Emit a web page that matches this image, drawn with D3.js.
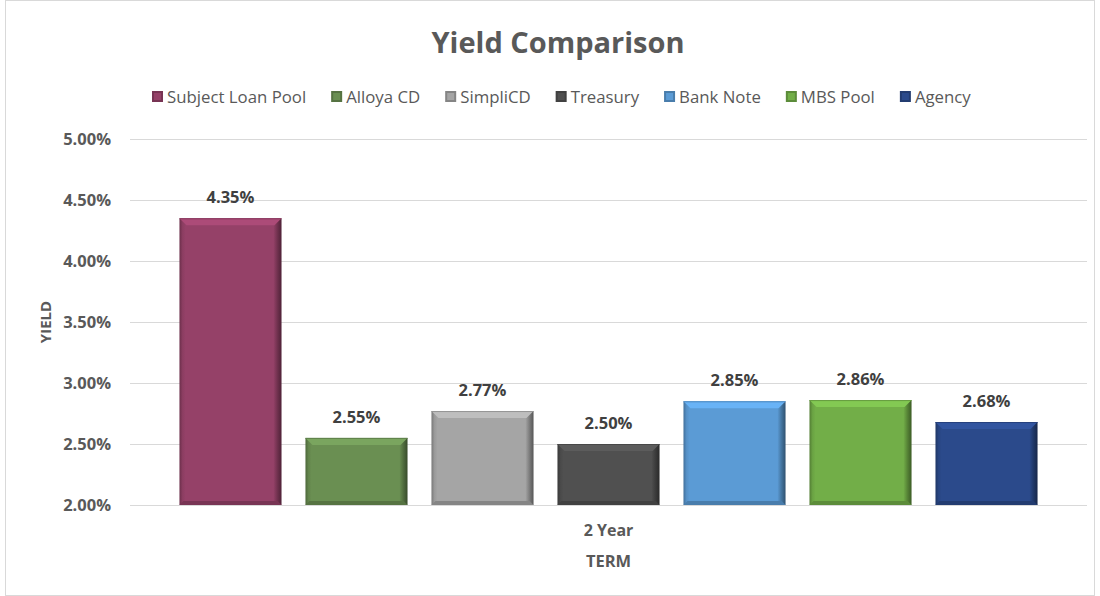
<!DOCTYPE html>
<html>
<head>
<meta charset="utf-8">
<script src="https://cdn.jsdelivr.net/npm/d3@7"></script>
<style>
  html, body { margin: 0; padding: 0; background: #fff; }
  svg text { font-family: "Open Sans", Lato, sans-serif; }
</style>
</head>
<body>
<svg id="chart" width="1100" height="596"></svg>
<script>
// Yield comparison for the 2-year term
const categories = ["2 Year"];
const seriesNames = ["Subject Loan Pool", "Alloya CD", "SimpliCD", "Treasury", "Bank Note", "MBS Pool", "Agency"];
const seriesValues = [4.35, 2.55, 2.77, 2.50, 2.85, 2.86, 2.68];
const seriesColors = ["#954168", "#6a8f52", "#a5a5a5", "#505050", "#5b9bd5", "#72ae48", "#2b4a8b"];
const yTicks = [2.0, 2.5, 3.0, 3.5, 4.0, 4.5, 5.0];

const svg = d3.select("#chart");
const W = 1100, H = 596;
const margin = { left: 130, right: 13, top: 139, bottom: 91 };
const FONT = "'Open Sans', Lato, sans-serif";

// chart frame
svg.append("rect").attr("x", 5.5).attr("y", 0.5).attr("width", W - 11).attr("height", H - 1)
  .attr("fill", "#fff").attr("stroke", "#d9d9d9");

const x0 = d3.scaleBand().domain(categories).range([margin.left, W - margin.right]).paddingInner(0).paddingOuter(0.0425);
const x1 = d3.scaleBand().domain(seriesNames).range([0, x0.bandwidth()]).paddingInner(0.19).paddingOuter(0.095);
const y = d3.scaleLinear().domain([2.0, 5.0]).range([H - margin.bottom, margin.top]);

// gridlines
svg.append("g").selectAll("line").data(yTicks).join("line")
  .attr("x1", margin.left).attr("x2", W - margin.right)
  .attr("y1", d => Math.round(y(d)) + 0.5).attr("y2", d => Math.round(y(d)) + 0.5)
  .attr("stroke", "#d9d9d9").attr("stroke-width", 1);

// y axis labels
const yAxis = d3.axisLeft(y).tickValues(yTicks).tickFormat(d => d3.format(".2f")(d) + "%").tickSize(0).tickPadding(19);
const gy = svg.append("g").attr("transform", `translate(${margin.left},0)`).call(yAxis);
gy.select(".domain").remove();
gy.selectAll("text").attr("fill", "#595959").attr("font-size", 16.5).attr("font-weight", "bold")
  .style("font-family", FONT);

// gradients per series for the bevelled bar look
const defs = svg.append("defs");
seriesNames.forEach((name, i) => {
  const c = d3.color(seriesColors[i]);
  const g = defs.append("linearGradient").attr("id", "side" + i).attr("x1", 0).attr("x2", 1).attr("y1", 0).attr("y2", 0);
  g.append("stop").attr("offset", "0%").attr("stop-color", c.darker(0.9));
  g.append("stop").attr("offset", "3%").attr("stop-color", c.darker(0.2));
  g.append("stop").attr("offset", "6%").attr("stop-color", c);
  g.append("stop").attr("offset", "92%").attr("stop-color", c);
  g.append("stop").attr("offset", "96%").attr("stop-color", c.darker(0.8));
  g.append("stop").attr("offset", "100%").attr("stop-color", c.darker(1.8));
});

const bars = svg.append("g").selectAll("g.bar")
  .data(seriesNames.map((n, i) => ({ name: n, value: seriesValues[i], i })))
  .join("g").attr("class", "bar");

const bx = d => x0(categories[0]) + x1(d.name);
const bw = x1.bandwidth();
const base = y(2.0);

bars.append("rect")
  .attr("x", bx).attr("y", d => y(d.value)).attr("width", bw).attr("height", d => base - y(d.value))
  .attr("fill", d => `url(#side${d.i})`);

// top bevel
const bev = 7;
bars.append("path")
  .attr("d", d => {
    const x = bx(d), t = y(d.value);
    return `M${x},${t} L${x + bw},${t} L${x + bw - bev},${t + bev} L${x + bev},${t + bev} Z`;
  })
  .attr("fill", d => d3.color(seriesColors[d.i]).brighter(0.4));
bars.append("line")
  .attr("x1", bx).attr("x2", d => bx(d) + bw)
  .attr("y1", d => y(d.value) + 0.5).attr("y2", d => y(d.value) + 0.5)
  .attr("stroke", d => d3.color(seriesColors[d.i]).darker(0.3)).attr("stroke-width", 1);
// bottom bevel
bars.append("path")
  .attr("d", d => {
    const x = bx(d);
    return `M${x + 4},${base - 4} L${x + bw - 4},${base - 4} L${x + bw},${base} L${x},${base} Z`;
  })
  .attr("fill", d => d3.color(seriesColors[d.i]).darker(0.6));

// value labels
bars.append("text")
  .attr("x", d => bx(d) + bw / 2).attr("y", d => y(d.value) - 15)
  .attr("text-anchor", "middle").attr("fill", "#404040").attr("font-size", 16.5).attr("font-weight", "bold")
  .text(d => d3.format(".2f")(d.value) + "%");

// baseline
svg.append("line").attr("x1", margin.left).attr("x2", W - margin.right)
  .attr("y1", Math.round(base) + 0.5).attr("y2", Math.round(base) + 0.5).attr("stroke", "#d9d9d9");

// category label
svg.append("text").attr("x", x0(categories[0]) + x0.bandwidth() / 2).attr("y", base + 31)
  .attr("text-anchor", "middle").attr("fill", "#595959").attr("font-size", 16).attr("font-weight", "bold")
  .text(categories[0]);

// axis titles
svg.append("text").attr("x", x0(categories[0]) + x0.bandwidth() / 2).attr("y", base + 62)
  .attr("text-anchor", "middle").attr("fill", "#595959").attr("font-size", 16.5).attr("font-weight", "bold")
  .text("TERM");
svg.append("text").attr("transform", `translate(51,${(margin.top + base) / 2}) rotate(-90)`)
  .attr("text-anchor", "middle").attr("fill", "#595959").attr("font-size", 15).attr("font-weight", "bold")
  .text("YIELD");

// title
svg.append("text").attr("x", 558).attr("y", 53).attr("text-anchor", "middle")
  .attr("fill", "#595959").attr("font-size", 29).attr("font-weight", "bold").text("Yield Comparison");

// legend
const legend = svg.append("g").attr("transform", "translate(0,97)");
let lx = 152;
seriesNames.forEach((name, i) => {
  const c = d3.color(seriesColors[i]);
  const g = legend.append("g").attr("transform", `translate(${lx},0)`);
  g.append("rect").attr("x", 0).attr("y", -6).attr("width", 11).attr("height", 11).attr("fill", c.darker(0.6));
  g.append("rect").attr("x", 2).attr("y", -4).attr("width", 7).attr("height", 7).attr("fill", c);
  const t = g.append("text").attr("x", 15).attr("y", 6).attr("fill", "#595959").attr("font-size", 16.8).text(name);
  lx += 15 + t.node().getComputedTextLength() + 25;
});
</script>
</body>
</html>
